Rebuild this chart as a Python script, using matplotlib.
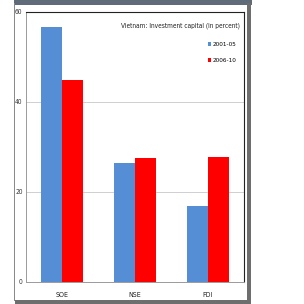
import matplotlib
matplotlib.use("Agg")
import matplotlib.pyplot as plt
from matplotlib.patches import Rectangle
from matplotlib import font_manager
import numpy as np

categories = ["SOE", "NSE", "FDI"]
series_names = ["2001-05", "2006-10"]
vals_2001 = [56.7, 26.4, 16.9]
vals_2006 = [44.9, 27.6, 27.8]
yticks = [0, 20, 40, 60]
title = "Vietnam: Investment capital (in percent)"

# look for a condensed face
cond = None
for f in font_manager.fontManager.ttflist:
    st = str(f.stretch).lower()
    if ("condensed" in st or "narrow" in st or "Condensed" in f.fname or "Narrow" in f.fname) \
            and f.weight in (400, "normal", "regular") and f.style == "normal":
        cond = f
        break
if cond is not None:
    FP = dict(family=cond.name, stretch=cond.stretch)
    SCALE = 1.0
else:
    FP = dict(family="Liberation Sans")
    SCALE = 0.85

W = H = 304
fig = plt.figure(figsize=(3.04, 3.04), dpi=100)
fig.patch.set_facecolor("white")

def fx(px):
    return px / W

def fy(py):
    return 1 - py / H

def frect(x0, y0, w, h, **kw):
    fig.add_artist(Rectangle((fx(x0), fy(y0 + h)), w / W, h / H,
                             transform=fig.transFigure, zorder=20, **kw))

# screenshot frame
frect(14, 0, 238, 4.5, facecolor="#5f6b78", edgecolor="none")
frect(14, 3, 1.2, 298, facecolor="#8a8a8a", edgecolor="none")
frect(247, 3, 3.5, 301, facecolor="#6e6e6e", edgecolor="none")
frect(15, 300, 235, 4, facecolor="#6e6e6e", edgecolor="none")

ax = fig.add_axes([fx(26), fy(282), fx(244) - fx(26), fy(12) - fy(282)])
x = np.arange(len(categories))
bw = 0.29
ax.bar(x - bw / 2, vals_2001, bw, color="#558ed5", label=series_names[0], zorder=3)
ax.bar(x + bw / 2, vals_2006, bw, color="#ff0000", label=series_names[1], zorder=3)
ax.set_xlim(-0.5, 2.5)
ax.set_ylim(0, 60)
ax.set_yticks(yticks)
ax.set_yticklabels([str(v) for v in yticks], fontsize=4.8 * SCALE, color="#333333", **FP)
ax.set_xticks(x)
ax.set_xticklabels(categories, fontsize=5.0 * SCALE, color="#222222", **FP)
ax.tick_params(axis="y", length=0, pad=2.5)
ax.tick_params(axis="x", length=0, pad=7)
ax.grid(axis="y", color="#c8c8c8", linewidth=0.6, zorder=0)
for s in ["top", "right"]:
    ax.spines[s].set_color("#222222")
    ax.spines[s].set_linewidth(0.8)
ax.spines["left"].set_color("#9a9a9a")
ax.spines["bottom"].set_color("#9a9a9a")
ax.spines["left"].set_linewidth(0.7)
ax.spines["bottom"].set_linewidth(0.7)

ax.text(0.98, 0.95, title, transform=ax.transAxes, ha="right", va="center",
        fontsize=4.7 * SCALE, color="#222222", **FP)
leg = ax.legend(loc="upper right", bbox_to_anchor=(0.99, 0.91), frameon=False,
                handlelength=0.5, handleheight=0.5, handletextpad=0.2,
                labelspacing=1.7,
                prop=font_manager.FontProperties(size=4.6 * SCALE, **FP))

fig.savefig("out.png", dpi=100)
